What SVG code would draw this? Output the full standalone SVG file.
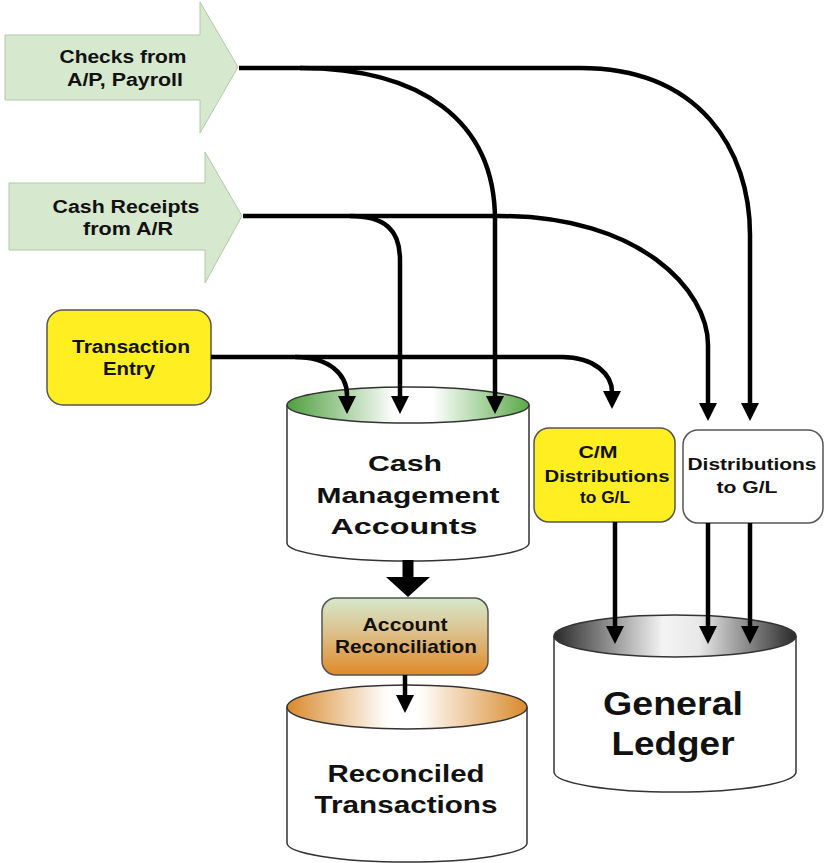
<svg xmlns="http://www.w3.org/2000/svg" width="824" height="863" viewBox="0 0 824 863">
<style>
text{font-family:"Liberation Sans",Arial,sans-serif;font-weight:bold;fill:#111;text-anchor:middle}
.blk{fill:#d6e8cd;stroke:#b3c8aa;stroke-width:1}
.box{stroke:#555;stroke-width:1.5}
.cyl{fill:#fff;stroke:#333;stroke-width:1.5}
.ln{fill:none;stroke:#000;stroke-width:4.5;marker-end:url(#ah)}
</style>
<defs>
<marker id="ah" markerUnits="userSpaceOnUse" markerWidth="18" markerHeight="18" refX="13" refY="9" orient="auto">
<path d="M0,0 L18,9 L0,18 z" fill="#000"/>
</marker>
<linearGradient id="gGreen" x1="0" y1="0" x2="1" y2="0">
<stop offset="0" stop-color="#4f9f3f"/><stop offset="0.45" stop-color="#fff"/><stop offset="0.6" stop-color="#fff"/><stop offset="1" stop-color="#5aaa48"/>
</linearGradient>
<linearGradient id="gOrange" x1="0" y1="0" x2="1" y2="0">
<stop offset="0" stop-color="#d98a2c"/><stop offset="0.42" stop-color="#fff"/><stop offset="0.55" stop-color="#fff"/><stop offset="1" stop-color="#d98a2c"/>
</linearGradient>
<linearGradient id="gGray" x1="0" y1="0" x2="1" y2="0">
<stop offset="0" stop-color="#2a2a2a"/><stop offset="0.45" stop-color="#f4f4f4"/><stop offset="0.6" stop-color="#e8e8e8"/><stop offset="1" stop-color="#2a2a2a"/>
</linearGradient>
<linearGradient id="gRecon" x1="0" y1="0" x2="0" y2="1">
<stop offset="0" stop-color="#d6e9cc"/><stop offset="0.45" stop-color="#dcc08a"/><stop offset="1" stop-color="#e08a28"/>
</linearGradient>
</defs>

<g id="checks">
<polygon class="blk" points="5,35 200,35 200,2 238,67 200,133 200,100 5,100"/>
<text x="123" y="63" font-size="18" textLength="127" lengthAdjust="spacingAndGlyphs">Checks from</text>
<text x="125" y="86" font-size="18" textLength="116" lengthAdjust="spacingAndGlyphs">A/P, Payroll</text>
</g>

<g id="receipts">
<polygon class="blk" points="9,183 205,183 205,152 242,216 205,283 205,250 9,250"/>
<text x="126" y="213" font-size="18" textLength="147" lengthAdjust="spacingAndGlyphs">Cash Receipts</text>
<text x="128" y="235" font-size="18" textLength="90" lengthAdjust="spacingAndGlyphs">from A/R</text>
</g>

<g id="transaction-entry">
<rect class="box" x="47" y="310" width="164" height="95" rx="16" fill="#ffee22"/>
<text x="131" y="353" font-size="18" textLength="118" lengthAdjust="spacingAndGlyphs">Transaction</text>
<text x="129" y="375" font-size="18" textLength="52" lengthAdjust="spacingAndGlyphs">Entry</text>
</g>

<g id="cash-management">
<path class="cyl" d="M287,405 V543 A121,18 0 0 0 529,543 V405"/>
<ellipse cx="408" cy="405" rx="121" ry="18" fill="url(#gGreen)" stroke="#333" stroke-width="1.5"/>
<text x="405" y="471" font-size="22" textLength="74" lengthAdjust="spacingAndGlyphs">Cash</text>
<text x="408" y="503" font-size="22" textLength="183" lengthAdjust="spacingAndGlyphs">Management</text>
<text x="404" y="534" font-size="22" textLength="147" lengthAdjust="spacingAndGlyphs">Accounts</text>
</g>

<g id="account-reconciliation">
<rect class="box" x="322" y="598" width="166" height="77" rx="14" fill="url(#gRecon)"/>
<text x="405" y="631" font-size="19" textLength="85" lengthAdjust="spacingAndGlyphs">Account</text>
<text x="406" y="653" font-size="19" textLength="142" lengthAdjust="spacingAndGlyphs">Reconciliation</text>
</g>

<g id="reconciled-transactions">
<path class="cyl" d="M287,707 V843 A120,19 0 0 0 527,843 V707"/>
<ellipse cx="407" cy="707" rx="120" ry="22" fill="url(#gOrange)" stroke="#333" stroke-width="1.5"/>
<text x="406" y="782" font-size="24" textLength="157" lengthAdjust="spacingAndGlyphs">Reconciled</text>
<text x="406" y="813" font-size="24" textLength="183" lengthAdjust="spacingAndGlyphs">Transactions</text>
</g>

<g id="cm-distributions">
<rect class="box" x="534" y="428" width="141" height="94" rx="15" fill="#ffee22"/>
<text x="598" y="458" font-size="16" textLength="39" lengthAdjust="spacingAndGlyphs">C/M</text>
<text x="607" y="482" font-size="16" textLength="125" lengthAdjust="spacingAndGlyphs">Distributions</text>
<text x="605" y="503" font-size="16" textLength="50" lengthAdjust="spacingAndGlyphs">to G/L</text>
</g>

<g id="distributions">
<rect class="box" x="683" y="430" width="140" height="93" rx="15" fill="#fff"/>
<text x="752" y="470" font-size="16" textLength="129" lengthAdjust="spacingAndGlyphs">Distributions</text>
<text x="747" y="493" font-size="16" textLength="61" lengthAdjust="spacingAndGlyphs">to G/L</text>
</g>

<g id="general-ledger">
<path class="cyl" d="M554,636 V772 A121,20 0 0 0 796,772 V636"/>
<ellipse cx="675" cy="636" rx="121" ry="21" fill="url(#gGray)" stroke="#333" stroke-width="1.5"/>
<text x="673" y="715" font-size="34" textLength="140" lengthAdjust="spacingAndGlyphs">General</text>
<text x="673" y="755" font-size="34" textLength="123" lengthAdjust="spacingAndGlyphs">Ledger</text>
</g>

<g id="connectors">
<path class="ln" d="M239,68 H580 C700,68 750,150 750,235 V416"/>
<path class="ln" d="M300,68 C420,68 495,120 495,220 V409"/>
<path class="ln" d="M243,216 H500 C640,216 708,290 708,345 V416"/>
<path class="ln" d="M350,216 C385,216 400,230 400,260 V409"/>
<path class="ln" d="M211,357 H562 C595,357 612,375 612,392 V404"/>
<path class="ln" d="M295,357 C330,357 347,375 347,395 V409"/>
<path class="ln" d="M615,522 V639"/>
<path class="ln" d="M708,523 V639"/>
<path class="ln" d="M750,523 V639"/>
<path class="ln" d="M405,675 V708"/>
<path d="M408,560 V580" stroke="#000" stroke-width="11" fill="none"/>
<polygon points="386,577 430,577 408,597" fill="#000"/>
</g>
</svg>
